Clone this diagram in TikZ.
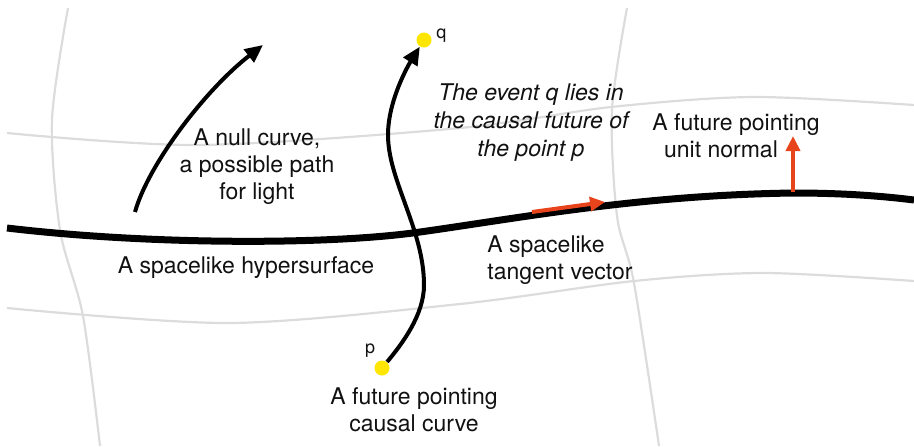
\documentclass[tikz,border=0pt]{standalone}
\usepackage{fontspec}
\setsansfont{TeX Gyre Heros}
\usetikzlibrary{arrows.meta,positioning,calc}
\definecolor{SurfGrey}{HTML}{DCDCDC}
\definecolor{SurfRed}{HTML}{E8441C}
\definecolor{SurfYellow}{HTML}{FFE600}
\definecolor{SurfInk}{HTML}{111111}

\begin{document}
\begin{tikzpicture}[x=0.5pt,y=-0.5pt,font=\sffamily\fontsize{11.5}{13.5}\selectfont,text=SurfInk,
  gline/.style={draw=SurfGrey,line width=1.1pt},
  surf/.style={draw=black,line width=3.5pt},
  curv/.style={draw=black,line width=2pt,-{Triangle[length=9pt,width=8pt]}},
  vec/.style={draw=SurfRed,line width=2pt,-{Triangle[length=7.5pt,width=7pt]}},
  dot/.style={circle,fill=SurfYellow,inner sep=0pt,minimum size=7.5pt},
  ptlbl/.style={inner sep=0pt,font=\sffamily\fontsize{9}{11}\selectfont},
  lbl/.style={align=center,inner sep=0pt},
  itl/.style={lbl,font=\sffamily\itshape\fontsize{11.5}{14}\selectfont}]
  \useasboundingbox (0,0) rectangle (914,446);
  % coordinate grid
  \draw[gline] plot[smooth] coordinates {(68,8) (52,120) (60,230) (83,316) (100,446)};
  \draw[gline] plot[smooth] coordinates {(627,8) (612,110) (617,216) (634,283) (659,446)};
  \draw[gline] plot[smooth] coordinates {(7,133) (200,145) (460,128) (611,107) (754,97) (914,105)};
  \draw[gline] plot[smooth] coordinates {(7,308) (230,323) (460,304) (634,281) (764,273) (914,281)};
  % hypersurface
  \draw[surf] (7,228) .. controls (150,245) and (330,245) .. (420,232)
    .. controls (520,218) and (640,195) .. (794,193) .. controls (850,193) and (890,197) .. (914,200);
  % events and curves
  \node[dot] (p) at (382,368) {};
  \node[dot] (q) at (424,40) {};
  \node[ptlbl,above=1pt of p,xshift=-6pt] (plab) {p};
  \node[ptlbl,right=2pt of q,yshift=2pt] (qlab) {q};
  \coordinate (nullA) at (135,212);
  \coordinate (nullB) at (263,45);
  \draw[curv] (nullA) .. controls (148,165) and (205,90) .. (nullB);
  \draw[curv] (p) .. controls (402,344) and (424,315) .. (424,285)
    .. controls (424,230) and (388,180) .. (388,135)
    .. controls (388,100) and (409,64) .. (q);
  % vectors
  \coordinate (tanA) at (532,212);
  \coordinate (tanB) at (605,202);
  \coordinate (nrmA) at (793,192);
  \coordinate (nrmB) at (793,136);
  \draw[vec] (tanA) -- (tanB);
  \draw[vec] (nrmA) -- (nrmB);
  % labels
  \node[lbl] (nulltxt) at (257,167) {A null curve,\\a possible path\\for light};
  \node[itl] (eventtxt) at (531,123) {The event q lies in\\the causal future of\\the point p};
  \node[lbl] (nrmtxt) at (736,136) {A future pointing\\unit normal\hspace*{15pt}};
  \node[lbl,anchor=base] (surftxt) at (246,273) {A spacelike hypersurface};
  \node[lbl,align=left,anchor=west] (tantxt) at (487,260) {A spacelike\\tangent vector};
  \node[lbl] (causaltxt) at (414,410) {A future pointing\\causal curve};
\end{tikzpicture}
\end{document}
